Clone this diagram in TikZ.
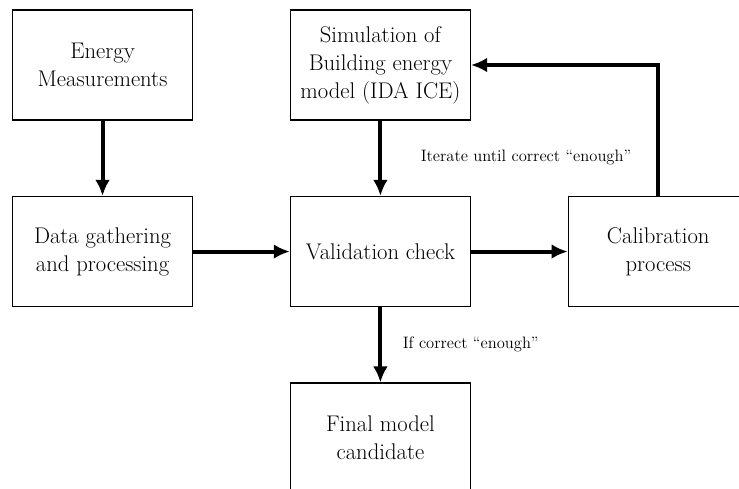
\documentclass[tikz,border=0pt]{standalone}
\usepackage{tikz}
\usetikzlibrary{arrows.meta,positioning,calc}

\begin{document}
\begin{tikzpicture}[
    box/.style={draw, line width=0.9pt, align=center, minimum width=135pt, minimum height=82.5pt, font=\fontsize{17}{21}\selectfont},
    lbl/.style={font=\fontsize{12.4}{14}\selectfont},
    arrow/.style={-{Latex[length=12pt,width=11pt]}, line width=3pt},
    node distance=56.5pt and 72.5pt
  ]
    \useasboundingbox (0,0) rectangle (554.25pt,-366.75pt);
    \clip (0,0) rectangle (554.25pt,-366.75pt);
    \node[box] (energy) at (76.9pt,-48.75pt) {Energy\\Measurements};
    \node[box, right=of energy] (sim) {Simulation of\\Building energy\\model (IDA ICE)};
    \node[box, below=of energy] (data) {Data gathering\\and processing};
    \node[box, right=of data] (valid) {Validation check};
    \node[box, right=of valid] (calib) {Calibration\\process};
    \node[box, below=of valid] (final) {Final model\\candidate};
    \node[lbl] (iterate) at ([xshift=5pt,yshift=29pt]$(valid.north east)!0.5!(calib.north west)$) {Iterate until correct ``enough''};
    \draw[arrow] (energy) -- (data);
    \draw[arrow] (sim) -- (valid);
    \draw[arrow] (data) -- (valid);
    \draw[arrow] (valid) -- (calib);
    \draw[arrow] (calib.north) |- (sim.east);
    \draw[arrow] (valid) -- node[lbl, right=12pt] (ifok) {If correct ``enough''} (final);
  \end{tikzpicture}
\end{document}
